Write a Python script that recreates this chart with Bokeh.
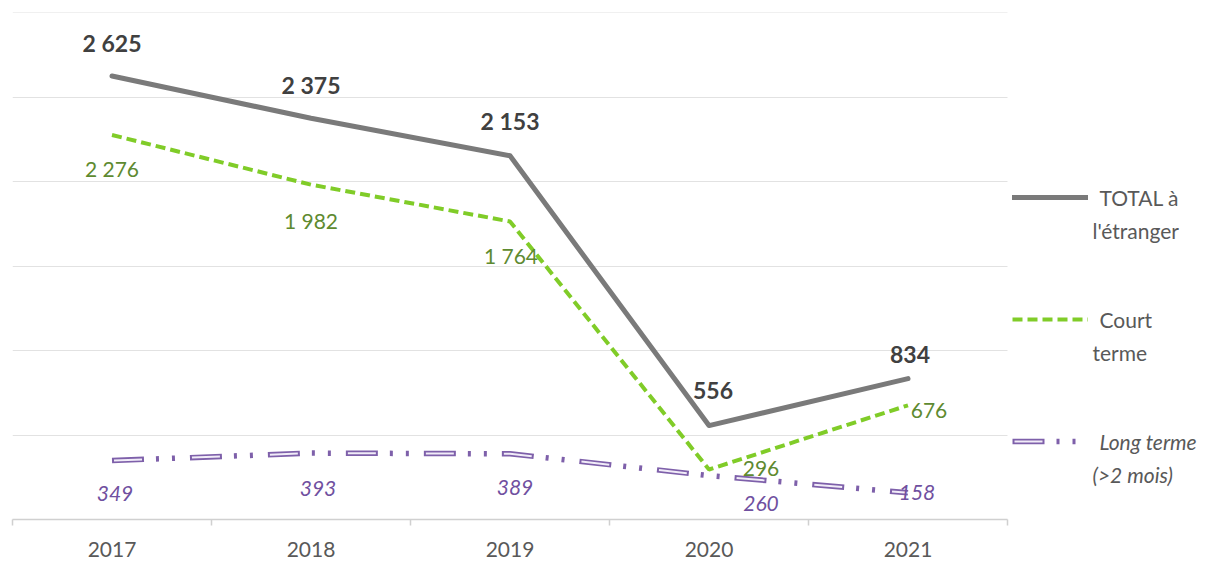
from bokeh.plotting import figure
from bokeh.models import (Range1d, FixedTicker, SingleIntervalTicker, Legend,
                          LegendItem, Label)
from bokeh.embed import file_html
from bokeh.resources import INLINE
from bokeh.core.properties import value

# ---- data ----
years = [2017, 2018, 2019, 2020, 2021]
total = [2625, 2375, 2153, 556, 834]
court = [2276, 1982, 1764, 296, 676]
long_terme = [349, 393, 389, 260, 158]

legend_lines = [["TOTAL à", "l'étranger"], ["Court", "terme"], ["Long terme", "(>2 mois)"]]

# ---- style / layout ----
FONT = "Lato"
W, H = 1221, 562
LEFT, TOP = 12, 12
DATA_W, FH = 995, 507          # width of the plotted years area, frame height
FW = W - LEFT                   # frame spans to the right edge (legend lives inside)
GRAY = "#7a7a7a"
GREEN = "#80cc28"
GREEN_TXT = "#5e8a30"
PURPLE = "#7e60aa"
PURPLE_TXT = "#7050a0"
TXT = "#595959"

x0 = years[0] - 0.5
x1 = years[-1] + 0.5
x_end = x0 + (x1 - x0) * FW / DATA_W


def fmt(v):
    return f"{v:,}".replace(",", " ")


p = figure(width=W, height=H, output_backend="svg", toolbar_location=None,
           x_range=Range1d(x0, x_end), y_range=Range1d(0, 3001),
           y_axis_location=None,
           min_border_left=LEFT, min_border_top=TOP,
           min_border_right=0, min_border_bottom=H - TOP - FH)
p.outline_line_color = None
p.background_fill_color = "white"
p.border_fill_color = "white"
p.xgrid.visible = False
p.ygrid.ticker = SingleIntervalTicker(interval=500)
p.ygrid.grid_line_color = "#e2e2e2"
p.ygrid.grid_line_width = 1
p.ygrid.cross_bounds = (x0, x1)

ax = p.xaxis[0]
ax.bounds = (x0, x1)
ax.ticker = FixedTicker(ticks=years,
                        minor_ticks=[y - 0.5 for y in years] + [years[-1] + 0.5])
ax.major_tick_line_color = None
ax.minor_tick_line_color = "#d0d0d0"
ax.minor_tick_line_width = 1.5
ax.minor_tick_out = 6
ax.minor_tick_in = 0
ax.axis_line_color = "#d0d0d0"
ax.axis_line_width = 1.5
ax.major_label_text_font = FONT
ax.major_label_text_font_size = "21px"
ax.major_label_text_color = TXT
ax.major_label_standoff = 16

# ---- lines ----
r_total = p.line(years, total, line_color=GRAY, line_width=5, line_join="round",
                 line_cap="round")
r_court = p.line(years, court, line_color=GREEN, line_width=4, line_dash="10 5")
r_long_o = p.line(years, long_terme, line_color=PURPLE, line_width=5.5,
                  line_dash="32 12 3 13 3 15")
r_long_i = p.line(years, long_terme, line_color="#f1ecf8", line_width=2,
                  line_dash="0 2 28 48")

# ---- data labels ----
tot_dx = [0, 0, 0, 4, 2]
tot_dy = [-33, -33, -35, -35, -24]
p.text(x=years, y=total, text=[fmt(v) for v in total], x_offset=tot_dx, y_offset=tot_dy,
       text_align="center", text_baseline="middle", text_font=value(FONT),
       text_font_style="bold", text_font_size="23px", text_color="#404040")

court_dx = [0, 0, 1, 52, 21]
court_dy = [34, 36, 34, -1, 5]
p.text(x=years, y=court, text=[fmt(v) for v in court], x_offset=court_dx, y_offset=court_dy,
       text_align="center", text_baseline="middle", text_font=value(FONT),
       text_font_size="21px", text_color=GREEN_TXT)

long_dx = [3, 7, 5, 52, 9]
long_dy = [33, 35, 34, 28, 0]
p.text(x=years, y=long_terme, text=[fmt(v) for v in long_terme], x_offset=long_dx,
       y_offset=long_dy, text_align="center", text_baseline="middle",
       text_font=value(FONT), text_font_style="italic", text_font_size="21px",
       text_color=PURPLE_TXT)

# ---- legend (glyphs) ----
GLYPH_H, SPACING = 20, 102
legend_h = 3 * GLYPH_H + 2 * SPACING
legend = Legend(items=[LegendItem(label=" ", renderers=[r_total]),
                       LegendItem(label=" ", renderers=[r_court]),
                       LegendItem(label=" ", renderers=[r_long_o, r_long_i])],
                location=(1000, FH - 175 - legend_h), glyph_width=76,
                glyph_height=GLYPH_H, label_height=GLYPH_H, spacing=SPACING,
                padding=0, margin=0, border_line_alpha=0, background_fill_alpha=0,
                label_text_font_size="8px")
p.add_layout(legend)

# ---- legend texts ----
row_centers = [185, 307, 429]
for i, (l1, l2) in enumerate(legend_lines):
    style = "italic" if i == 2 else "normal"
    for j, t in enumerate((l1, l2)):
        p.add_layout(Label(x=1087 - 7 * j, y=FH - (row_centers[i] + 33 * j),
                           x_units="screen", y_units="screen", text=t,
                           text_font=FONT, text_font_size="21px", text_color=TXT,
                           text_font_style=style, text_baseline="middle",
                           text_align="left"))

open("out.html", "w").write(file_html(p, INLINE))
